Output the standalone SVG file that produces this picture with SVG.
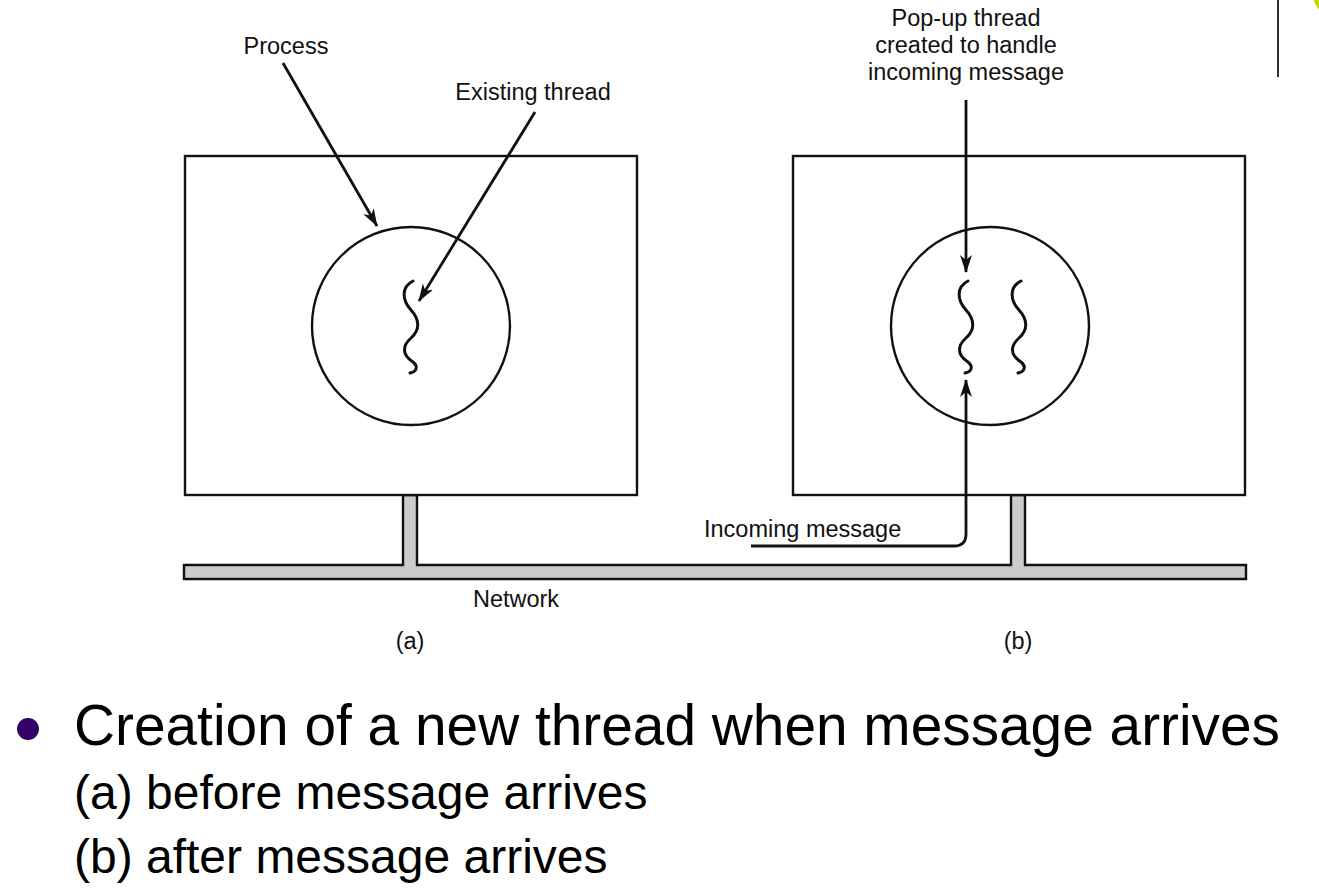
<svg xmlns="http://www.w3.org/2000/svg" width="1319" height="895" viewBox="0 0 1319 895">
  <style>
    .box { fill: #ffffff; stroke: #111111; stroke-width: 2.4; }
    .proc { fill: none; stroke: #111111; stroke-width: 2.4; }
    .thread { fill: none; stroke: #111111; stroke-width: 3; stroke-linecap: round; }
    .net { fill: #cccccc; stroke: #111111; stroke-width: 2.4; stroke-linejoin: miter; }
    .arrow { fill: none; stroke: #111111; stroke-width: 2.8; marker-end: url(#head); }
    .lbl { font-family: "Liberation Sans", Arial, Helvetica, sans-serif; font-size: 23.5px; fill: #111111; }
    .mid { text-anchor: middle; }
    .big { font-family: "Liberation Sans", Arial, Helvetica, sans-serif; fill: #000000; }
  </style>
  <defs>
    <marker id="head" viewBox="0 0 18 12" refX="17" refY="6" markerWidth="18" markerHeight="12" markerUnits="userSpaceOnUse" orient="auto">
      <path d="M0,0 L18,6 L0,12 L5,6 Z" fill="#111111"/>
    </marker>
    <path id="wave" d="M0,0 C-12,6 -11,19 -2,29 C7,39 7,49 -2,57 C-11,65 -11,74 0,81 C6,86 3,91 -3,92"/>
  </defs>

  <rect width="1319" height="895" fill="#ffffff"/>

  <!-- slide decoration, top right -->
  <line x1="1278" y1="0" x2="1278" y2="77" stroke="#333333" stroke-width="2"/>
  <circle cx="1336" cy="-6" r="23" fill="#c8d400"/>

  <!-- network bus with the two host stubs -->
  <g id="network">
    <path class="net" d="M184,565 H403 V495 H417 V565 H1011 V495 H1025 V565 H1246 V579 H184 Z"/>
  </g>

  <!-- (a) machine before the message arrives -->
  <g id="machine-a">
    <rect class="box" x="185" y="156" width="452" height="339"/>
    <circle class="proc" cx="411" cy="326" r="99"/>
    <use href="#wave" class="thread" x="413" y="281"/>
  </g>

  <!-- (b) machine after the message arrives -->
  <g id="machine-b">
    <rect class="box" x="793" y="156" width="452" height="339"/>
    <circle class="proc" cx="990" cy="326" r="99"/>
    <use href="#wave" class="thread" x="968" y="281"/>
    <use href="#wave" class="thread" x="1021" y="281"/>
  </g>

  <!-- connectors -->
  <g id="connectors">
    <line class="arrow" x1="283" y1="63" x2="377" y2="226"/>
    <line class="arrow" x1="535" y1="112" x2="419" y2="301"/>
    <line class="arrow" x1="966" y1="100" x2="966" y2="272"/>
    <path class="arrow" d="M751,546 H954 Q966,546 966,534 V380"/>
  </g>

  <!-- labels -->
  <g id="labels">
    <text class="lbl mid" x="286" y="54">Process</text>
    <text class="lbl mid" x="533" y="100">Existing thread</text>
    <text class="lbl mid" x="966" y="26">Pop-up thread</text>
    <text class="lbl mid" x="966" y="53">created to handle</text>
    <text class="lbl mid" x="966" y="80">incoming message</text>
    <text class="lbl" x="704" y="537">Incoming message</text>
    <text class="lbl mid" x="516" y="607">Network</text>
    <text class="lbl mid" x="410" y="649">(a)</text>
    <text class="lbl mid" x="1018" y="649">(b)</text>
  </g>

  <!-- caption -->
  <g id="caption">
    <circle cx="28" cy="729" r="11" fill="#330066"/>
    <text class="big" x="74" y="745" font-size="56.8">Creation of a new thread when message arrives</text>
    <text class="big" x="74" y="809" font-size="48">(a) before message arrives</text>
    <text class="big" x="74" y="873" font-size="48">(b) after message arrives</text>
  </g>
</svg>
